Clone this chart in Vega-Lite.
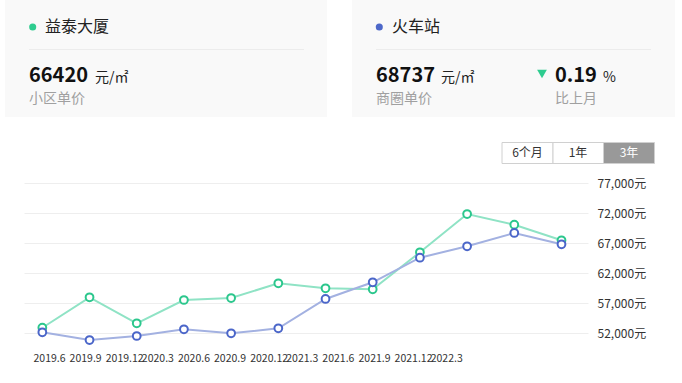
{
  "$schema": "https://vega.github.io/schema/vega-lite/v6.json",
  "width": 564,
  "height": 162,
  "autosize": {"type": "none"},
  "padding": {"left": 24, "top": 183, "right": 94, "bottom": 38},
  "background": "#ffffff",
  "config": {"view": {"stroke": null}, "font": "Noto Sans CJK SC", "text": {"font": "Noto Sans CJK SC"}},
  "datasets": {
    "one": [{}],
    "prices": [
      {"month": "2019.6", "series": "益泰大厦", "price": 52880},
      {"month": "2019.9", "series": "益泰大厦", "price": 57950},
      {"month": "2019.12", "series": "益泰大厦", "price": 53620},
      {"month": "2020.3", "series": "益泰大厦", "price": 57500},
      {"month": "2020.6", "series": "益泰大厦", "price": 57830},
      {"month": "2020.9", "series": "益泰大厦", "price": 60280},
      {"month": "2020.12", "series": "益泰大厦", "price": 59450},
      {"month": "2021.3", "series": "益泰大厦", "price": 59280},
      {"month": "2021.6", "series": "益泰大厦", "price": 65450},
      {"month": "2021.9", "series": "益泰大厦", "price": 71830},
      {"month": "2021.12", "series": "益泰大厦", "price": 70050},
      {"month": "2022.3", "series": "益泰大厦", "price": 67450},
      {"month": "2019.6", "series": "火车站", "price": 52120},
      {"month": "2019.9", "series": "火车站", "price": 50830},
      {"month": "2019.12", "series": "火车站", "price": 51500},
      {"month": "2020.3", "series": "火车站", "price": 52620},
      {"month": "2020.6", "series": "火车站", "price": 51950},
      {"month": "2020.9", "series": "火车站", "price": 52780},
      {"month": "2020.12", "series": "火车站", "price": 57670},
      {"month": "2021.3", "series": "火车站", "price": 60450},
      {"month": "2021.6", "series": "火车站", "price": 64550},
      {"month": "2021.9", "series": "火车站", "price": 66450},
      {"month": "2021.12", "series": "火车站", "price": 68670},
      {"month": "2022.3", "series": "火车站", "price": 66780}
    ]
  },
  "layer": [
    {"data": {"name": "one"}, "mark": {"type": "rect", "fill": "#f9f9f9"},
     "encoding": {"x": {"value": -19}, "x2": {"value": 303}, "y": {"value": -183}, "y2": {"value": -66}}},
    {"data": {"name": "one"}, "mark": {"type": "rect", "fill": "#f9f9f9"},
     "encoding": {"x": {"value": 328}, "x2": {"value": 651}, "y": {"value": -183}, "y2": {"value": -66}}},
    {"data": {"name": "one"}, "mark": {"type": "rule", "color": "#ececec", "strokeWidth": 1},
     "encoding": {"x": {"value": 5}, "x2": {"value": 280}, "y": {"value": -133.5}}},
    {"data": {"name": "one"}, "mark": {"type": "rule", "color": "#ececec", "strokeWidth": 1},
     "encoding": {"x": {"value": 352}, "x2": {"value": 627}, "y": {"value": -133.5}}},
    {"data": {"name": "one"}, "mark": {"type": "point", "shape": "circle", "filled": true, "color": "#2ecc8f", "size": 50, "opacity": 1},
     "encoding": {"x": {"value": 8.7}, "y": {"value": -156}}},
    {"data": {"name": "one"}, "mark": {"type": "point", "shape": "circle", "filled": true, "color": "#4d68c9", "size": 50, "opacity": 1},
     "encoding": {"x": {"value": 355.3}, "y": {"value": -156}}},
    {"data": {"name": "one"}, "mark": {"type": "text", "text": "益泰大厦", "align": "left", "baseline": "middle", "fontSize": 16, "color": "#222222"},
     "encoding": {"x": {"value": 21}, "y": {"value": -156}}},
    {"data": {"name": "one"}, "mark": {"type": "text", "text": "火车站", "align": "left", "baseline": "middle", "fontSize": 16, "color": "#222222"},
     "encoding": {"x": {"value": 368}, "y": {"value": -156}}},
    {"data": {"name": "one"}, "mark": {"type": "text", "text": "66420", "align": "left", "baseline": "alphabetic", "fontSize": 20, "fontWeight": "bold", "color": "#111111"},
     "encoding": {"x": {"value": 5}, "y": {"value": -101}}},
    {"data": {"name": "one"}, "mark": {"type": "text", "text": "元/㎡", "align": "left", "baseline": "alphabetic", "fontSize": 14, "color": "#222222"},
     "encoding": {"x": {"value": 71}, "y": {"value": -101}}},
    {"data": {"name": "one"}, "mark": {"type": "text", "text": "小区单价", "align": "left", "baseline": "middle", "fontSize": 14, "color": "#a0a0a0"},
     "encoding": {"x": {"value": 5}, "y": {"value": -84}}},
    {"data": {"name": "one"}, "mark": {"type": "text", "text": "68737", "align": "left", "baseline": "alphabetic", "fontSize": 20, "fontWeight": "bold", "color": "#111111"},
     "encoding": {"x": {"value": 352}, "y": {"value": -101}}},
    {"data": {"name": "one"}, "mark": {"type": "text", "text": "元/㎡", "align": "left", "baseline": "alphabetic", "fontSize": 14, "color": "#222222"},
     "encoding": {"x": {"value": 417}, "y": {"value": -101}}},
    {"data": {"name": "one"}, "mark": {"type": "text", "text": "商圈单价", "align": "left", "baseline": "middle", "fontSize": 14, "color": "#a0a0a0"},
     "encoding": {"x": {"value": 352}, "y": {"value": -84}}},
    {"data": {"name": "one"}, "mark": {"type": "point", "shape": "triangle-down", "filled": true, "color": "#2ecc8f", "size": 95, "opacity": 1},
     "encoding": {"x": {"value": 518}, "y": {"value": -109}}},
    {"data": {"name": "one"}, "mark": {"type": "text", "text": "0.19", "align": "left", "baseline": "alphabetic", "fontSize": 20, "fontWeight": "bold", "color": "#111111"},
     "encoding": {"x": {"value": 531}, "y": {"value": -101}}},
    {"data": {"name": "one"}, "mark": {"type": "text", "text": "%", "align": "left", "baseline": "alphabetic", "fontSize": 14, "color": "#222222"},
     "encoding": {"x": {"value": 579}, "y": {"value": -101}}},
    {"data": {"name": "one"}, "mark": {"type": "text", "text": "比上月", "align": "left", "baseline": "middle", "fontSize": 14, "color": "#a0a0a0"},
     "encoding": {"x": {"value": 531}, "y": {"value": -84}}},
    {"data": {"name": "one"}, "mark": {"type": "rect", "fill": "#ffffff", "stroke": "#d0d0d0", "strokeWidth": 1},
     "encoding": {"x": {"value": 478}, "x2": {"value": 529}, "y": {"value": -40.5}, "y2": {"value": -19.5}}},
    {"data": {"name": "one"}, "mark": {"type": "rect", "fill": "#ffffff", "stroke": "#d0d0d0", "strokeWidth": 1},
     "encoding": {"x": {"value": 529}, "x2": {"value": 579.5}, "y": {"value": -40.5}, "y2": {"value": -19.5}}},
    {"data": {"name": "one"}, "mark": {"type": "rect", "fill": "#999999", "stroke": "#d0d0d0", "strokeWidth": 1},
     "encoding": {"x": {"value": 579.5}, "x2": {"value": 630.5}, "y": {"value": -40.5}, "y2": {"value": -19.5}}},
    {"data": {"name": "one"}, "mark": {"type": "text", "text": "6个月", "align": "center", "baseline": "middle", "fontSize": 12, "color": "#333333"},
     "encoding": {"x": {"value": 503.5}, "y": {"value": -30}}},
    {"data": {"name": "one"}, "mark": {"type": "text", "text": "1年", "align": "center", "baseline": "middle", "fontSize": 12, "color": "#333333"},
     "encoding": {"x": {"value": 554}, "y": {"value": -30}}},
    {"data": {"name": "one"}, "mark": {"type": "text", "text": "3年", "align": "center", "baseline": "middle", "fontSize": 12, "color": "#ffffff"},
     "encoding": {"x": {"value": 605}, "y": {"value": -30}}},
    {
      "data": {"name": "prices"},
      "encoding": {
        "x": {"field": "month", "type": "ordinal",
              "sort": ["2019.6", "2019.9", "2019.12", "2020.3", "2020.6", "2020.9", "2020.12", "2021.3", "2021.6", "2021.9", "2021.12", "2022.3"],
              "scale": {"type": "point", "padding": 0.475, "align": 0.409}, "axis": null},
        "y": {"field": "price", "type": "quantitative",
              "scale": {"domain": [50000, 77000], "nice": false, "zero": false},
              "axis": {"orient": "right", "values": [52000, 57000, 62000, 67000, 72000, 77000],
                       "labelExpr": "format(datum.value, ',') + '元'", "grid": true, "gridColor": "#eeeeee",
                       "domain": false, "ticks": false, "labelPadding": 9, "labelFontSize": 12,
                       "labelColor": "#333333", "title": null, "labelFont": "Noto Sans CJK SC"}}
      },
      "layer": [
        {"mark": {"type": "line", "strokeWidth": 2},
         "encoding": {"color": {"field": "series", "type": "nominal",
                                "scale": {"domain": ["益泰大厦", "火车站"], "range": ["#8fe3c5", "#a3b1e1"]}, "legend": null}}},
        {"mark": {"type": "point", "shape": "circle", "filled": false, "fill": "#ffffff", "strokeWidth": 2, "size": 60, "opacity": 1},
         "encoding": {"stroke": {"field": "series", "type": "nominal",
                                 "scale": {"domain": ["益泰大厦", "火车站"], "range": ["#2cc78d", "#4b66c9"]}, "legend": null}}}
      ]
    },
    {
      "data": {"name": "prices"},
      "transform": [{"filter": "datum.series === '益泰大厦'"}],
      "mark": {"type": "point", "opacity": 0},
      "encoding": {
        "x": {"field": "month", "type": "ordinal",
              "scale": {"type": "point", "padding": 0.81, "align": 0.154,
                        "domain": ["2019.6", "2019.9", "2019.12", "2020.3", "2020.6", "2020.9", "2020.12", "2021.3", "2021.6", "2021.9", "2021.12", "2022.3", " ", "  ", "   "]},
              "axis": {"title": null, "ticks": false, "domain": false, "grid": false, "labelPadding": 8,
                       "labelFontSize": 10.5, "labelColor": "#333333", "labelAngle": 0, "labelAlign": "left",
                       "labelOverlap": false, "labelFont": "Noto Sans CJK SC"}}
      }
    }
  ],
  "resolve": {"scale": {"x": "independent"}}
}
